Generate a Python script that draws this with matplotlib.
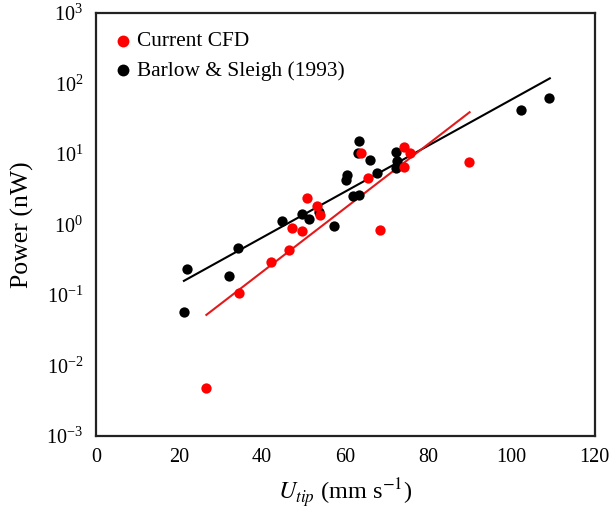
import numpy as np
import matplotlib
matplotlib.use("Agg")
import matplotlib.pyplot as plt

plt.rcParams['font.family'] = ['Liberation Serif', 'DejaVu Serif']
plt.rcParams['mathtext.fontset'] = 'stix'

# Current CFD points
cfd_u = [26.5, 34.4, 42.1, 46.4, 47.3, 49.7, 50.8, 53.2, 54.0, 63.9, 65.5, 68.3, 74.1, 74.1, 75.5, 89.7]
cfd_p = [0.0048, 0.107, 0.29, 0.43, 0.90, 0.81, 2.36, 1.83, 1.36, 10.2, 4.6, 0.84, 12.4, 6.6, 10.2, 7.7]

# Barlow & Sleigh (1993) points
bs_u = [21.2, 22.0, 32.1, 34.3, 44.9, 49.5, 51.3, 53.7, 57.2, 60.1, 60.4, 61.9, 63.3,
        63.1, 63.3, 65.9, 67.7, 72.1, 72.5, 72.3, 102.2, 109.0]
bs_p = [0.058, 0.234, 0.184, 0.46, 1.12, 1.4, 1.19, 1.51, 0.95, 4.2, 5.0, 2.5, 2.6,
        10.4, 15.0, 8.2, 5.3, 10.8, 7.8, 6.4, 42, 62]

# trend line end points
cfd_fit_u = [26.6, 89.9]
cfd_fit_p = [0.052, 39]
bs_fit_u = [21.2, 109.2]
bs_fit_p = [0.158, 118]

fig = plt.figure(figsize=(6.1, 5.17), dpi=100)
ax = fig.add_axes([0.157, 0.157, 0.818, 0.818])

ax.plot(bs_fit_u, bs_fit_p, color='black', lw=1.5, zorder=2)
ax.plot(cfd_fit_u, cfd_fit_p, color='#e31a1c', lw=1.5, zorder=2)
ax.scatter(bs_u, bs_p, s=55, color='black', label='Barlow & Sleigh (1993)', zorder=3, linewidths=0)
ax.scatter(cfd_u, cfd_p, s=55, color='#ff0000', label='Current CFD', zorder=3, linewidths=0)

ax.set_yscale('log')
ax.set_xlim(0, 120)
ax.set_ylim(1e-3, 1e3)
ax.set_xticks([0, 20, 40, 60, 80, 100, 120])
ax.set_yticks([1e-3, 1e-2, 1e-1, 1e0, 1e1, 1e2, 1e3])
ax.yaxis.set_minor_locator(matplotlib.ticker.NullLocator())
ax.tick_params(length=0, labelsize=14.5, pad=9)

for s in ax.spines.values():
    s.set_linewidth(1.6)
    s.set_color('#222222')

ax.set_xlabel('$U_{tip}$ (mm s$^{-1}$)', fontsize=17.5, labelpad=7)
ax.set_ylabel('Power (nW)', fontsize=18.5, labelpad=9)

h, l = ax.get_legend_handles_labels()
ax.legend(h[::-1], l[::-1], loc='upper left', frameon=False, fontsize=15.4,
          handlelength=0.8, handletextpad=0.25, borderaxespad=0.46, borderpad=0.4,
          labelspacing=0.45, markerscale=1.15)

fig.savefig('out.png', dpi=100)
